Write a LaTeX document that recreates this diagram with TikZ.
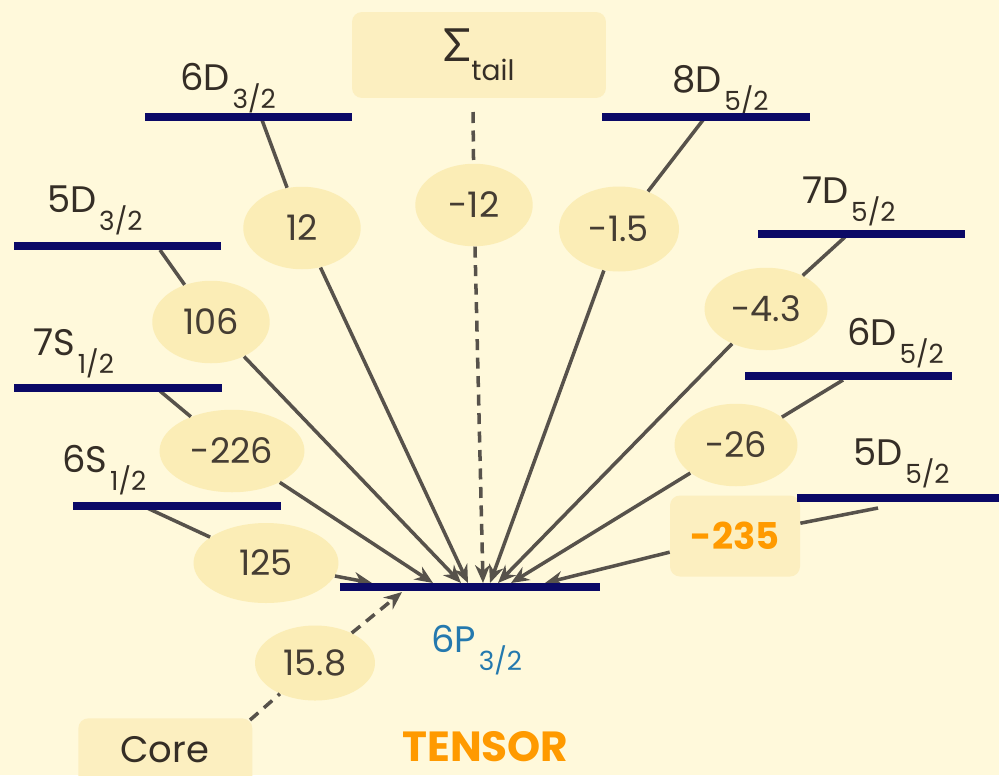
\documentclass[tikz,border=0pt]{standalone}
\usepackage{fontspec}
\setmainfont{Poppins}
\newfontfamily\sigmafont{Lato}
\usepackage{xcolor}
\usetikzlibrary{positioning,arrows.meta,shapes.geometric}

\definecolor{bgcream}{HTML}{FFF9DB}
\definecolor{coeffill}{HTML}{FBEDB6}
\definecolor{boxfill}{HTML}{FCEFC0}
\definecolor{levelblue}{HTML}{0B0966}
\definecolor{linkgray}{HTML}{57524B}
\definecolor{textdark}{HTML}{352E26}
\definecolor{coeftext}{HTML}{453D33}
\definecolor{pblue}{HTML}{2479AE}
\definecolor{hiorange}{HTML}{FF9A00}

% level name with lowered j subscript
\newcommand{\lvlsub}[1]{\kern1.5pt\raisebox{-0.36cm}{\fontsize{15}{15}\selectfont #1}}

\begin{document}
\begin{tikzpicture}[
  x=0.02cm, y=-0.02cm,
  level/.style={draw=levelblue, line width=4.5pt},
  lvllbl/.style={anchor=base west, inner sep=0pt, font=\fontsize{21}{23}\selectfont, text=textdark},
  coef/.style={ellipse, fill=coeffill, inner sep=0pt, minimum width=2.35cm, minimum height=1.65cm,
    font=\fontsize{20}{22}\selectfont, text=coeftext},
  tagbox/.style={rectangle, rounded corners=0.2cm, fill=boxfill, inner sep=0pt},
  link/.style={draw=linkgray, line width=2pt},
  arrow/.style={link, -{Stealth[length=0.36cm, width=0.3cm]}},
  dashlink/.style={dash pattern=on 0.22cm off 0.15cm}
]
\fill[bgcream] (0,0) rectangle (999,775);
\useasboundingbox (0,0) rectangle (999,775);

% boxes
\node[tagbox, minimum width=5.08cm, minimum height=1.72cm] (tail) at (479,55)
  {\fontsize{26}{28}\selectfont\color{textdark}{\sigmafont Σ}\raisebox{-0.38cm}{\fontsize{16}{16}\selectfont tail}};
\node[tagbox, minimum width=3.48cm, minimum height=1.8cm, anchor=north west] (core) at (78,718) {};
\node[anchor=base west, inner sep=0pt, font=\fontsize{21}{23}\selectfont, text=textdark] (corelbl) at (120,762) {Core};
\node[tagbox, minimum width=2.6cm, minimum height=1.62cm, font=\bfseries\fontsize{21}{23}\selectfont, text=hiorange] (b235) at (735,536) {-235};

% coefficients
\node[coef] (c12)  at (302,228) {12};
\node[coef] (cm12) at (474,205) {-12};
\node[coef, minimum width=2.4cm, minimum height=1.7cm] (cm15) at (619,229) {-1.5};
\node[coef] (c106) at (211,322) {106};
\node[coef, minimum width=2.46cm] (cm43) at (766,309) {-4.3};
\node[coef, minimum width=2.9cm] (cm226) at (232,451) {-226};
\node[coef, minimum width=2.46cm] (cm26) at (736,445) {-26};
\node[coef, minimum width=2.9cm, minimum height=1.6cm] (c125) at (266,563) {125};
\node[coef, minimum width=2.4cm, minimum height=1.5cm] (c158) at (315,663) {15.8};

% level labels
\node[lvllbl] (l6d3) at (180,90)  {6D\lvlsub{3/2}};
\node[lvllbl] (l8d5) at (672,92)  {8D\lvlsub{5/2}};
\node[lvllbl] (l5d3) at (47,212)  {5D\lvlsub{3/2}};
\node[lvllbl] (l7d5) at (802,203) {7D\lvlsub{5/2}};
\node[lvllbl] (l7s1) at (33,355)  {7S\lvlsub{1/2}};
\node[lvllbl] (l6d5) at (847,345) {6D\lvlsub{5/2}};
\node[lvllbl] (l6s1) at (62,472)  {6S\lvlsub{1/2}};
\node[lvllbl] (l5d5) at (853,465) {5D\lvlsub{5/2}};
\node[lvllbl, text=pblue] (l6p3) at (431,652) {6P\lvlsub{3/2}};
\node[anchor=base west, inner sep=0pt, font=\bfseries\fontsize{24}{26}\selectfont, text=hiorange] (tensor) at (402,761) {TENSOR};

% start points on the upper levels
\coordinate (s6d3) at (262,120);
\coordinate (s8d5) at (703,120);
\coordinate (s5d3) at (160,250);
\coordinate (s7d5) at (845,237);
\coordinate (s7s1) at (160,391);
\coordinate (s6d5) at (843,380);
\coordinate (s6s1) at (145,507);
\coordinate (s5d5) at (878,508);
\coordinate (stail) at (473,112);
\coordinate (score) at (250,720);

% arrow tips on 6P3/2
\coordinate (t125) at (372,583);
\coordinate (t226) at (433,583);
\coordinate (t106) at (461,583);
\coordinate (t12)  at (468,583);
\coordinate (tm12) at (483,583);
\coordinate (tm15) at (490,583);
\coordinate (tm43) at (498,583);
\coordinate (tm26) at (511,583);
\coordinate (t235) at (545,583);
\coordinate (t158) at (402,592);

% connectors
\draw[link] (s6s1) -- (c125);   \draw[arrow] (c125) -- (t125);
\draw[link] (s7s1) -- (cm226);  \draw[arrow] (cm226) -- (t226);
\draw[link] (s5d3) -- (c106);   \draw[arrow] (c106) -- (t106);
\draw[link] (s6d3) -- (c12);    \draw[arrow] (c12) -- (t12);
\draw[link, dashlink] (stail) -- (cm12); \draw[arrow, dashlink] (cm12) -- (tm12);
\draw[link] (s8d5) -- (cm15);   \draw[arrow] (cm15) -- (tm15);
\draw[link] (s7d5) -- (cm43);   \draw[arrow] (cm43) -- (tm43);
\draw[link] (s6d5) -- (cm26);   \draw[arrow] (cm26) -- (tm26);
\draw[link] (s5d5) -- (b235);   \draw[arrow] (b235) -- (t235);
\draw[link, dashlink] (score) -- (c158); \draw[arrow, dashlink] (c158) -- (t158);

% levels
\draw[level] (145,117) -- (352,117);
\draw[level] (602,117) -- (810,117);
\draw[level] (14,246) -- (221,246);
\draw[level] (758,234) -- (965,234);
\draw[level] (14,388) -- (222,388);
\draw[level] (745,376) -- (952,376);
\draw[level] (73,506) -- (281,506);
\draw[level] (797,498) -- (999,498);
\draw[level] (340,587) -- (600,587);

\end{tikzpicture}
\end{document}
